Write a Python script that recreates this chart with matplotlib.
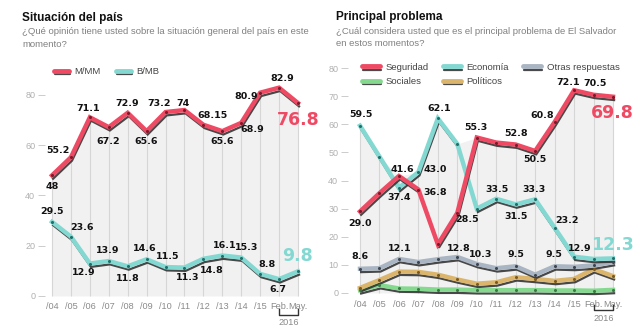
import numpy as np
import matplotlib
matplotlib.use("Agg")
import matplotlib.pyplot as plt
import matplotlib.patheffects as pe
from matplotlib.lines import Line2D

plt.rcParams['font.family'] = ['Liberation Sans', 'DejaVu Sans']

# ---- data ----
periods = ["/04", "/05", "/06", "/07", "/08", "/09", "/10", "/11", "/12", "/13",
           "/14", "/15", "Feb.", "May."]

mal = [48, 55.2, 71.1, 67.2, 72.9, 65.6, 73.2, 74, 68.15, 65.6, 68.9, 80.9, 82.9, 76.8]
bien = [29.5, 23.6, 12.9, 13.9, 11.8, 14.6, 11.5, 11.3, 14.8, 16.1, 15.3, 8.8, 6.7, 9.8]

seguridad = [29.0, 35.5, 41.6, 36.8, 17.3, 28.5, 55.3, 53.5, 52.8, 50.5, 60.8, 72.1, 70.5, 69.8]
economia = [59.5, 48.5, 37.4, 43.0, 62.1, 53.0, 30.0, 33.5, 31.5, 33.3, 23.2, 12.9, 12.1, 12.3]
otras = [8.6, 8.8, 12.1, 11.0, 12.0, 12.8, 10.3, 8.8, 9.5, 6.5, 9.5, 9.3, 9.8, 11.0]
politicos = [1.8, 4.6, 7.6, 7.5, 6.5, 4.8, 3.3, 3.8, 5.6, 5.0, 4.3, 5.0, 8.5, 6.0]
sociales = [1.0, 2.8, 1.6, 1.5, 1.2, 1.2, 1.0, 1.0, 1.0, 1.0, 0.9, 0.9, 0.8, 1.1]

# label offsets in pixels (which points get a label, and where)
mal_off = [(0, -11), (-13, 7), (-2, 9), (-1, -14), (0, 9.5), (0, -10.5), (-6, 9), (-1, 7),
           (9, 9), (0, -10.5), (11, -7), (-14, -4), (3, 9), None]
bien_off = [(0, 10), (11.5, 9), (-6, -8.5), (-1, 11), (0, -12), (-1.5, 11), (2.5, 10.5),
            (3.5, -10), (8.5, -12), (2, 10), (5, 10), (6.5, 9), (-1, -10), None]
seg_off = [(0, -12), None, (3, 7), (16.5, -2.5), None, (10, -7), (-1, 10.5), None,
           (0, 11.5), (0, -9), (-12.5, 6.5), (-6, 8), (1.5, 11.7), None]
eco_off = [(1, 11.4), None, (0, -10), (16.5, 3), (1, 10), None, None, (1, 9.5),
           (0, -12), (-1, 10), (12.5, 7), (6, 8.4), None, None]
otr_off = [(0, 12), None, (1, 10), None, None, (1, 8), (4, 9.5), None, (0, 12), None,
           (-1, 12), None, None, None]

RED = '#ef4a64'
TEAL = '#84d8d2'
GRAY = '#a9b5c2'
TAN = '#dbb56c'
GREEN = '#84d98f'
LBL = dict(ha='center', va='center', fontsize=6.8, fontweight='bold',
           family='DejaVu Sans', color='#111', zorder=6)
BIG = dict(ha='center', va='center', fontsize=12.5, fontweight='bold',
           family='DejaVu Sans', zorder=6)

x = np.arange(len(periods))
W, H = 640, 335
fig = plt.figure(figsize=(6.4, 3.35), dpi=100)


def shadow():
    return [pe.SimpleLineShadow(offset=(0.8, -2.4), shadow_color='#2a2a2a', alpha=0.85,
                                linewidth=1.6),
            pe.Normal()]


def draw_series(ax, vals, color, dot):
    ax.plot(x, vals, color=color, lw=3.2, solid_joinstyle='miter', zorder=4,
            path_effects=shadow())
    ax.plot(x, vals, 'o', ms=2.2, color=dot, mec='none', zorder=5)


def labels(ax, vals, offs, fmt):
    for i, o in enumerate(offs):
        if o is None:
            continue
        ax.annotate(fmt(vals[i]), (x[i], vals[i]), xytext=o, textcoords='offset pixels', **LBL)


def setup(ax, ylim, yticks, xlim):
    ax.set_xlim(*xlim)
    ax.set_ylim(*ylim)
    for s in ax.spines.values():
        s.set_visible(False)
    ax.set_yticks(yticks)
    ax.tick_params(axis='y', direction='out', length=5, width=0.6, color='#c4c4c4',
                   labelcolor='#b0b0b0', labelsize=6.5, pad=2)
    ax.set_xticks(x)
    ax.set_xticklabels(periods)
    ax.tick_params(axis='x', length=0, labelcolor='#8a8a8a', labelsize=6.6, pad=1)
    ax.patch.set_alpha(0)


def backdrop(ax, env):
    ax.fill_between(x, 0, env, color='#f1f1f1', lw=0, zorder=1)
    ax.vlines(x, 0, env, color='#d6d6d6', lw=0.8, zorder=2)


def bracket(ax, y0, y1, ytext):
    ax.plot([12, 12, 13, 13], [y1, y0, y0, y1], color='#333', lw=1, clip_on=False)
    ax.text(12.5, ytext, "2016", ha='center', va='center', fontsize=6.6, color='#8a8a8a')


# ---- left panel ----
ax1 = fig.add_axes([45 / W, 34 / H, 259 / W, 241.2 / H])
setup(ax1, (-2, 94), [0, 20, 40, 60, 80], (-0.37, 13.32))
backdrop(ax1, np.maximum(mal, bien))
draw_series(ax1, bien, TEAL, '#1f6f6a')
draw_series(ax1, mal, RED, '#7a1a2a')

labels(ax1, mal, mal_off, str)
labels(ax1, bien, bien_off, str)
ax1.annotate(str(mal[-1]), (x[-1], mal[-1]), xytext=(0, -16.5), textcoords='offset pixels',
             color=RED, **BIG)
ax1.annotate(str(bien[-1]), (x[-1], bien[-1]), xytext=(0, 15), textcoords='offset pixels',
             color=TEAL, **BIG)
bracket(ax1, -7.5, -5.3, -10.5)

h1 = [Line2D([], [], color=c, lw=3.5, solid_capstyle='round', path_effects=shadow())
      for c in (RED, TEAL)]
ax1.legend(h1, ["M/MM", "B/MB"], loc='center left', bbox_to_anchor=(0.0, 0.95), ncol=2,
           frameon=False, fontsize=6.8, handlelength=1.6, handletextpad=0.6,
           columnspacing=1.6, labelcolor='#444')

# ---- right panel ----
ax2 = fig.add_axes([348 / W, 36.4 / H, 272 / W, 244.6 / H])
setup(ax2, (-2, 85), [0, 10, 20, 30, 40, 50, 60, 70, 80], (-0.617, 13.36))
backdrop(ax2, np.max([seguridad, economia, otras, politicos, sociales], axis=0))
draw_series(ax2, sociales, GREEN, '#3a7a44')
draw_series(ax2, politicos, TAN, '#7a5a20')
draw_series(ax2, otras, GRAY, '#3d4650')
draw_series(ax2, economia, TEAL, '#1f6f6a')
draw_series(ax2, seguridad, RED, '#7a1a2a')

f1 = "{:.1f}".format
labels(ax2, seguridad, seg_off, f1)
labels(ax2, economia, eco_off, f1)
labels(ax2, otras, otr_off, f1)
ax2.annotate(f1(seguridad[-1]), (x[-1], seguridad[-1]), xytext=(-1, -16),
             textcoords='offset pixels', color=RED, **BIG)
ax2.annotate(f1(economia[-1]), (x[-1], economia[-1]), xytext=(-1, 13.4),
             textcoords='offset pixels', color=TEAL, **BIG)
bracket(ax2, -6.2, -4.2, -9.0)

names = ["Seguridad", "Sociales", "Economía", "Políticos", "Otras respuestas"]
cols = [RED, GREEN, TEAL, TAN, GRAY]
h2 = [Line2D([], [], color=c, lw=3.5, solid_capstyle='round', path_effects=shadow())
      for c in cols]
ax2.legend(h2, names, loc='upper left', bbox_to_anchor=(0.02, 1.0), ncol=3,
           frameon=False, fontsize=6.8, handlelength=1.9, handletextpad=0.6,
           columnspacing=1.5, labelspacing=0.6, labelcolor='#444')

# ---- titles ----
fig.text(22 / W, 1 - 18 / H, "Situación del país", fontsize=8.5, fontweight='bold',
         va='center', color='#111')
fig.text(22 / W, 1 - 27.5 / H,
         "¿Qué opinión tiene usted sobre la situación general del país en este\nmomento?",
         fontsize=6.8, va='top', color='#808080', linespacing=1.45)
fig.text(336 / W, 1 - 17 / H, "Principal problema", fontsize=8.5, fontweight='bold',
         va='center', color='#111')
fig.text(336 / W, 1 - 26.5 / H,
         "¿Cuál considera usted que es el principal problema de El Salvador\nen estos momentos?",
         fontsize=6.8, va='top', color='#808080', linespacing=1.45)

fig.savefig("out.png", dpi=100, facecolor='white')
